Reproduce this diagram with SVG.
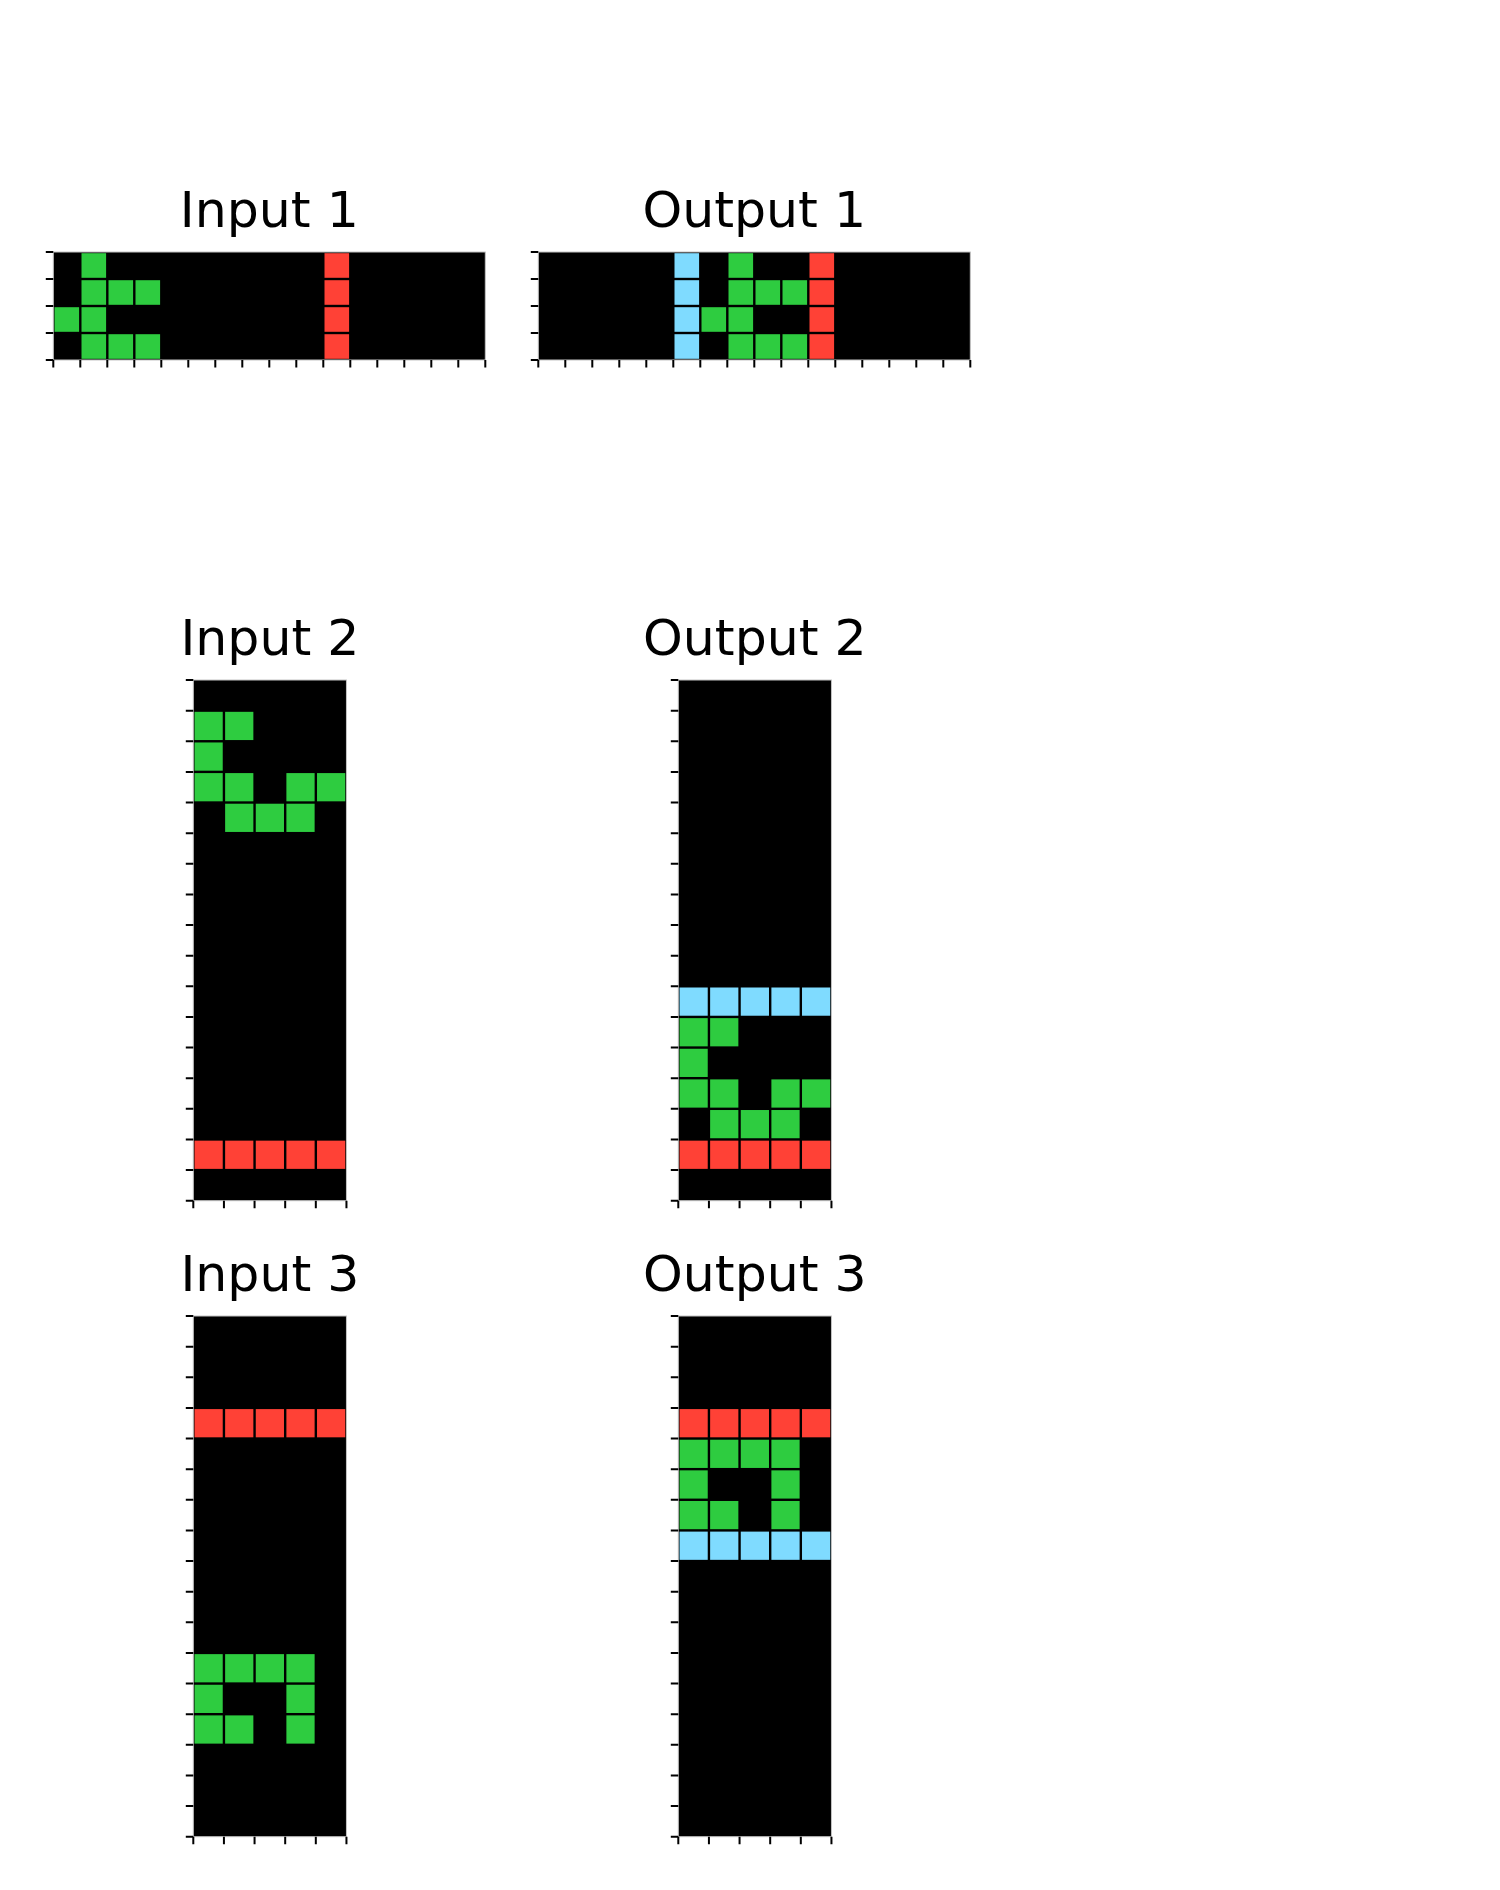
<svg xmlns="http://www.w3.org/2000/svg" width="1500" height="1890" viewBox="0 0 1500 1890">
<style>
.bg{fill:#000000}
.sp{fill:none;stroke:#c4c4c4;stroke-width:1}
.tk{fill:none;stroke:#000000;stroke-width:2}
.g{fill:#2ECC40}
.r{fill:#FF4136}
.c{fill:#7FDBFF}
.t{font-family:"DejaVu Sans","Liberation Sans",sans-serif;font-size:50.5px;fill:#000000;text-anchor:middle}
</style>
<rect width="1500" height="1890" fill="#ffffff"/>

<g id="input-1">
<text class="t" x="269.3" y="227">Input 1</text>
<g transform="translate(53.3,252)">
<rect class="bg" x="0" y="0" width="432" height="108"/>
<g>
<rect class="g" x="28.2" y="1.2" width="24.6" height="24.6"/>
<rect class="g" x="28.2" y="28.2" width="24.6" height="24.6"/>
<rect class="g" x="55.2" y="28.2" width="24.6" height="24.6"/>
<rect class="g" x="82.2" y="28.2" width="24.6" height="24.6"/>
<rect class="g" x="1.2" y="55.2" width="24.6" height="24.6"/>
<rect class="g" x="28.2" y="55.2" width="24.6" height="24.6"/>
<rect class="g" x="28.2" y="82.2" width="24.6" height="24.6"/>
<rect class="g" x="55.2" y="82.2" width="24.6" height="24.6"/>
<rect class="g" x="82.2" y="82.2" width="24.6" height="24.6"/>
<rect class="r" x="271.2" y="1.2" width="24.6" height="24.6"/>
<rect class="r" x="271.2" y="28.2" width="24.6" height="24.6"/>
<rect class="r" x="271.2" y="55.2" width="24.6" height="24.6"/>
<rect class="r" x="271.2" y="82.2" width="24.6" height="24.6"/>
</g>
<rect class="sp" x="0" y="0" width="432" height="108"/>
<path class="tk" d="M-7.5 0H0M-7.5 27H0M-7.5 54H0M-7.5 81H0M-7.5 108H0M0 108V115.5M27 108V115.5M54 108V115.5M81 108V115.5M108 108V115.5M135 108V115.5M162 108V115.5M189 108V115.5M216 108V115.5M243 108V115.5M270 108V115.5M297 108V115.5M324 108V115.5M351 108V115.5M378 108V115.5M405 108V115.5M432 108V115.5"/>
</g>
</g>

<g id="output-1">
<text class="t" x="754.3" y="227">Output 1</text>
<g transform="translate(538.3,252)">
<rect class="bg" x="0" y="0" width="432" height="108"/>
<g>
<rect class="c" x="136.2" y="1.2" width="24.6" height="24.6"/>
<rect class="c" x="136.2" y="28.2" width="24.6" height="24.6"/>
<rect class="c" x="136.2" y="55.2" width="24.6" height="24.6"/>
<rect class="c" x="136.2" y="82.2" width="24.6" height="24.6"/>
<rect class="g" x="190.2" y="1.2" width="24.6" height="24.6"/>
<rect class="g" x="190.2" y="28.2" width="24.6" height="24.6"/>
<rect class="g" x="217.2" y="28.2" width="24.6" height="24.6"/>
<rect class="g" x="244.2" y="28.2" width="24.6" height="24.6"/>
<rect class="g" x="163.2" y="55.2" width="24.6" height="24.6"/>
<rect class="g" x="190.2" y="55.2" width="24.6" height="24.6"/>
<rect class="g" x="190.2" y="82.2" width="24.6" height="24.6"/>
<rect class="g" x="217.2" y="82.2" width="24.6" height="24.6"/>
<rect class="g" x="244.2" y="82.2" width="24.6" height="24.6"/>
<rect class="r" x="271.2" y="1.2" width="24.6" height="24.6"/>
<rect class="r" x="271.2" y="28.2" width="24.6" height="24.6"/>
<rect class="r" x="271.2" y="55.2" width="24.6" height="24.6"/>
<rect class="r" x="271.2" y="82.2" width="24.6" height="24.6"/>
</g>
<rect class="sp" x="0" y="0" width="432" height="108"/>
<path class="tk" d="M-7.5 0H0M-7.5 27H0M-7.5 54H0M-7.5 81H0M-7.5 108H0M0 108V115.5M27 108V115.5M54 108V115.5M81 108V115.5M108 108V115.5M135 108V115.5M162 108V115.5M189 108V115.5M216 108V115.5M243 108V115.5M270 108V115.5M297 108V115.5M324 108V115.5M351 108V115.5M378 108V115.5M405 108V115.5M432 108V115.5"/>
</g>
</g>

<defs>
<path id="ticks17" class="tk" d="M-7.5 0H0M-7.5 30.63H0M-7.5 61.26H0M-7.5 91.89H0M-7.5 122.52H0M-7.5 153.15H0M-7.5 183.78H0M-7.5 214.41H0M-7.5 245.04H0M-7.5 275.67H0M-7.5 306.3H0M-7.5 336.93H0M-7.5 367.56H0M-7.5 398.19H0M-7.5 428.82H0M-7.5 459.45H0M-7.5 490.08H0M-7.5 520.71H0M0 520.71V528.2M30.63 520.71V528.2M61.26 520.71V528.2M91.89 520.71V528.2M122.52 520.71V528.2M153.15 520.71V528.2"/>
</defs>

<g id="input-2">
<text class="t" x="269.9" y="655">Input 2</text>
<g transform="translate(193.3,680)">
<rect class="bg" x="0" y="0" width="153.15" height="520.71"/>
<g>
<rect class="g" x="1.2" y="31.83" width="28.23" height="28.23"/>
<rect class="g" x="31.83" y="31.83" width="28.23" height="28.23"/>
<rect class="g" x="1.2" y="62.46" width="28.23" height="28.23"/>
<rect class="g" x="1.2" y="93.09" width="28.23" height="28.23"/>
<rect class="g" x="31.83" y="93.09" width="28.23" height="28.23"/>
<rect class="g" x="93.09" y="93.09" width="28.23" height="28.23"/>
<rect class="g" x="123.72" y="93.09" width="28.23" height="28.23"/>
<rect class="g" x="31.83" y="123.72" width="28.23" height="28.23"/>
<rect class="g" x="62.46" y="123.72" width="28.23" height="28.23"/>
<rect class="g" x="93.09" y="123.72" width="28.23" height="28.23"/>
<rect class="r" x="1.2" y="460.65" width="28.23" height="28.23"/>
<rect class="r" x="31.83" y="460.65" width="28.23" height="28.23"/>
<rect class="r" x="62.46" y="460.65" width="28.23" height="28.23"/>
<rect class="r" x="93.09" y="460.65" width="28.23" height="28.23"/>
<rect class="r" x="123.72" y="460.65" width="28.23" height="28.23"/>
</g>
<rect class="sp" x="0" y="0" width="153.15" height="520.71"/>
<use href="#ticks17"/>
</g>
</g>

<g id="output-2">
<text class="t" x="754.9" y="655">Output 2</text>
<g transform="translate(678.3,680)">
<rect class="bg" x="0" y="0" width="153.15" height="520.71"/>
<g>
<rect class="c" x="1.2" y="307.5" width="28.23" height="28.23"/>
<rect class="c" x="31.83" y="307.5" width="28.23" height="28.23"/>
<rect class="c" x="62.46" y="307.5" width="28.23" height="28.23"/>
<rect class="c" x="93.09" y="307.5" width="28.23" height="28.23"/>
<rect class="c" x="123.72" y="307.5" width="28.23" height="28.23"/>
<rect class="g" x="1.2" y="338.13" width="28.23" height="28.23"/>
<rect class="g" x="31.83" y="338.13" width="28.23" height="28.23"/>
<rect class="g" x="1.2" y="368.76" width="28.23" height="28.23"/>
<rect class="g" x="1.2" y="399.39" width="28.23" height="28.23"/>
<rect class="g" x="31.83" y="399.39" width="28.23" height="28.23"/>
<rect class="g" x="93.09" y="399.39" width="28.23" height="28.23"/>
<rect class="g" x="123.72" y="399.39" width="28.23" height="28.23"/>
<rect class="g" x="31.83" y="430.02" width="28.23" height="28.23"/>
<rect class="g" x="62.46" y="430.02" width="28.23" height="28.23"/>
<rect class="g" x="93.09" y="430.02" width="28.23" height="28.23"/>
<rect class="r" x="1.2" y="460.65" width="28.23" height="28.23"/>
<rect class="r" x="31.83" y="460.65" width="28.23" height="28.23"/>
<rect class="r" x="62.46" y="460.65" width="28.23" height="28.23"/>
<rect class="r" x="93.09" y="460.65" width="28.23" height="28.23"/>
<rect class="r" x="123.72" y="460.65" width="28.23" height="28.23"/>
</g>
<rect class="sp" x="0" y="0" width="153.15" height="520.71"/>
<use href="#ticks17"/>
</g>
</g>

<g id="input-3">
<text class="t" x="269.9" y="1291">Input 3</text>
<g transform="translate(193.3,1316)">
<rect class="bg" x="0" y="0" width="153.15" height="520.71"/>
<g>
<rect class="r" x="1.2" y="93.09" width="28.23" height="28.23"/>
<rect class="r" x="31.83" y="93.09" width="28.23" height="28.23"/>
<rect class="r" x="62.46" y="93.09" width="28.23" height="28.23"/>
<rect class="r" x="93.09" y="93.09" width="28.23" height="28.23"/>
<rect class="r" x="123.72" y="93.09" width="28.23" height="28.23"/>
<rect class="g" x="1.2" y="338.13" width="28.23" height="28.23"/>
<rect class="g" x="31.83" y="338.13" width="28.23" height="28.23"/>
<rect class="g" x="62.46" y="338.13" width="28.23" height="28.23"/>
<rect class="g" x="93.09" y="338.13" width="28.23" height="28.23"/>
<rect class="g" x="1.2" y="368.76" width="28.23" height="28.23"/>
<rect class="g" x="93.09" y="368.76" width="28.23" height="28.23"/>
<rect class="g" x="1.2" y="399.39" width="28.23" height="28.23"/>
<rect class="g" x="31.83" y="399.39" width="28.23" height="28.23"/>
<rect class="g" x="93.09" y="399.39" width="28.23" height="28.23"/>
</g>
<rect class="sp" x="0" y="0" width="153.15" height="520.71"/>
<use href="#ticks17"/>
</g>
</g>

<g id="output-3">
<text class="t" x="754.9" y="1291">Output 3</text>
<g transform="translate(678.3,1316)">
<rect class="bg" x="0" y="0" width="153.15" height="520.71"/>
<g>
<rect class="r" x="1.2" y="93.09" width="28.23" height="28.23"/>
<rect class="r" x="31.83" y="93.09" width="28.23" height="28.23"/>
<rect class="r" x="62.46" y="93.09" width="28.23" height="28.23"/>
<rect class="r" x="93.09" y="93.09" width="28.23" height="28.23"/>
<rect class="r" x="123.72" y="93.09" width="28.23" height="28.23"/>
<rect class="g" x="1.2" y="123.72" width="28.23" height="28.23"/>
<rect class="g" x="31.83" y="123.72" width="28.23" height="28.23"/>
<rect class="g" x="62.46" y="123.72" width="28.23" height="28.23"/>
<rect class="g" x="93.09" y="123.72" width="28.23" height="28.23"/>
<rect class="g" x="1.2" y="154.35" width="28.23" height="28.23"/>
<rect class="g" x="93.09" y="154.35" width="28.23" height="28.23"/>
<rect class="g" x="1.2" y="184.98" width="28.23" height="28.23"/>
<rect class="g" x="31.83" y="184.98" width="28.23" height="28.23"/>
<rect class="g" x="93.09" y="184.98" width="28.23" height="28.23"/>
<rect class="c" x="1.2" y="215.61" width="28.23" height="28.23"/>
<rect class="c" x="31.83" y="215.61" width="28.23" height="28.23"/>
<rect class="c" x="62.46" y="215.61" width="28.23" height="28.23"/>
<rect class="c" x="93.09" y="215.61" width="28.23" height="28.23"/>
<rect class="c" x="123.72" y="215.61" width="28.23" height="28.23"/>
</g>
<rect class="sp" x="0" y="0" width="153.15" height="520.71"/>
<use href="#ticks17"/>
</g>
</g>

<g id="connectors"></g>
</svg>
